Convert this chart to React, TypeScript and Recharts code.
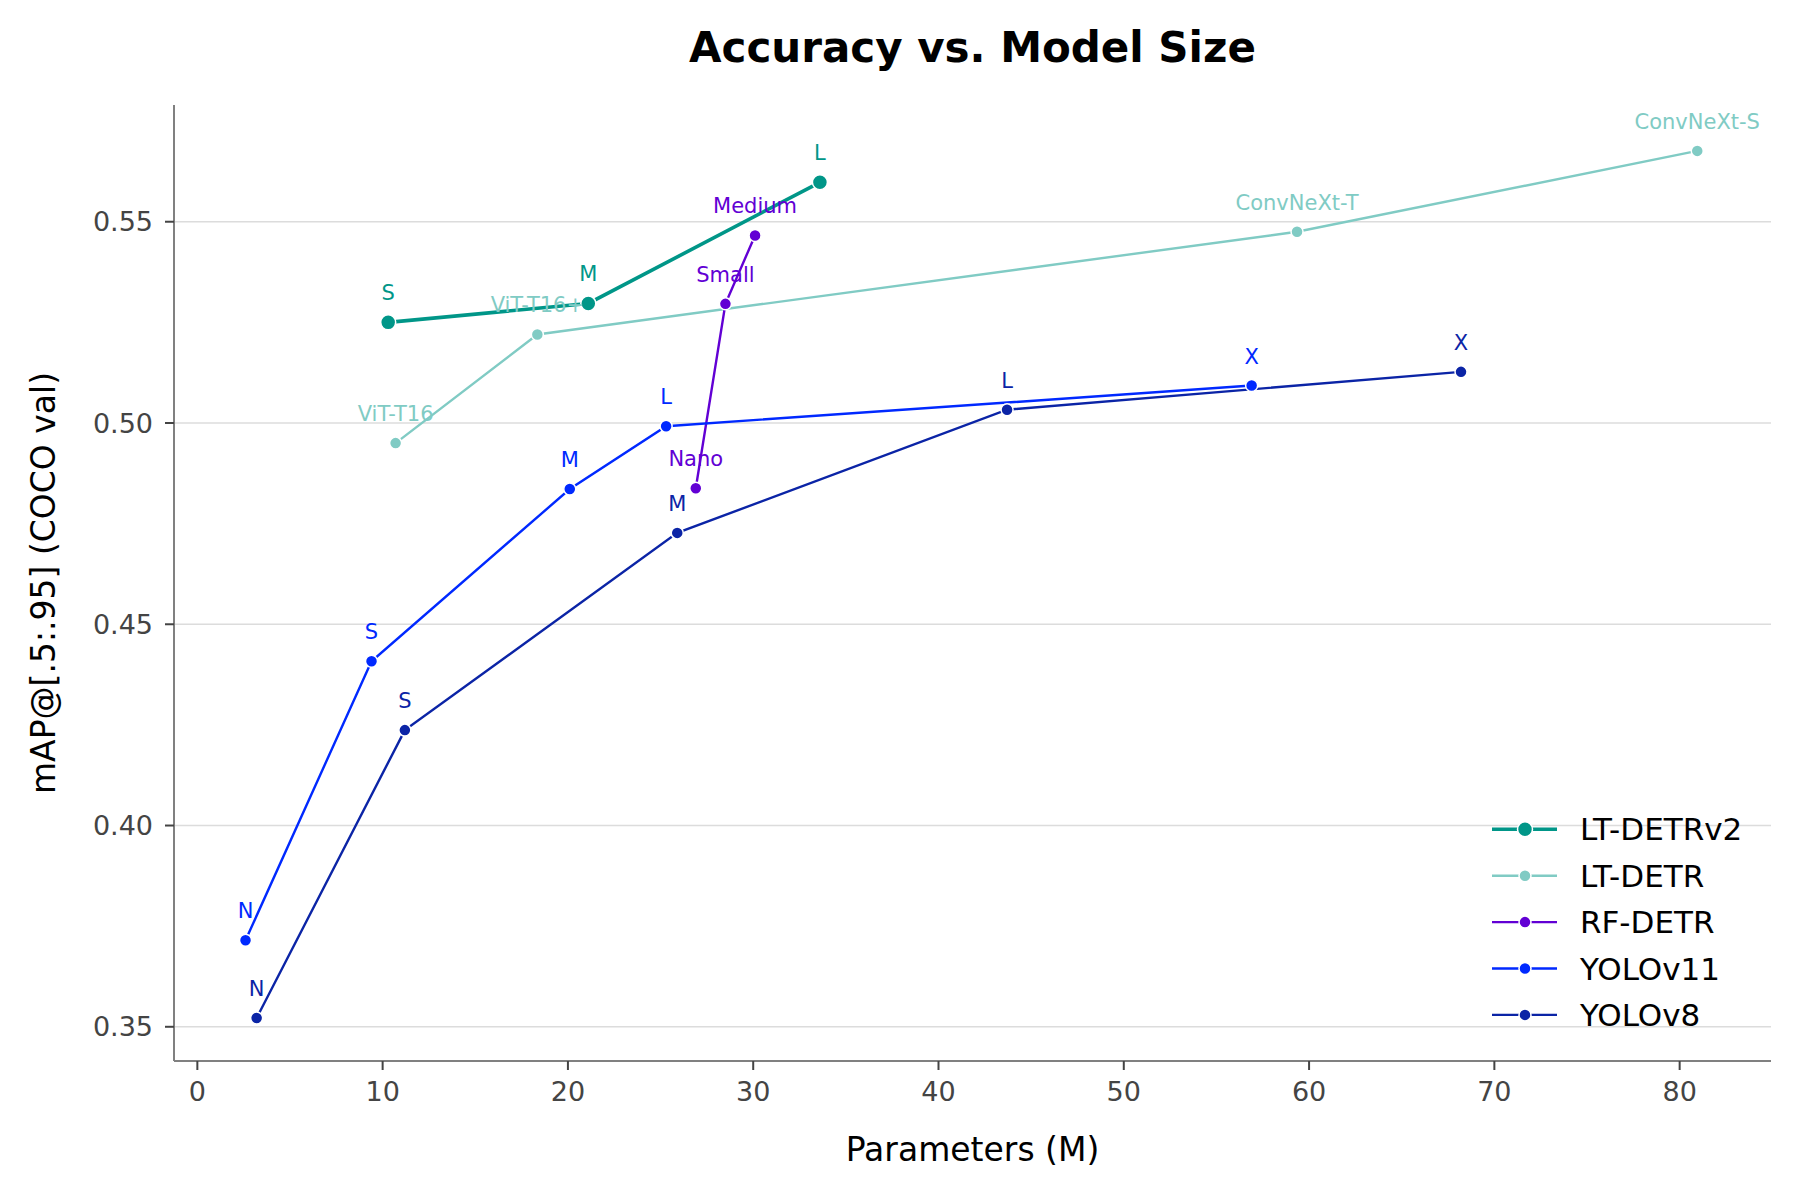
import React from 'react';
import { LineChart, Line, XAxis, YAxis, CartesianGrid, LabelList } from 'recharts';

// ---- Data ----
const ltDetrV2Params = [10.3, 21.1, 33.6];
const ltDetrV2Map = [0.525, 0.5297, 0.5598];
const ltDetrV2Labels = ['S', 'M', 'L'];

const ltDetrParams = [10.7, 18.35, 59.35, 80.95];
const ltDetrMap = [0.495, 0.522, 0.5475, 0.5676];
const ltDetrLabels = ['ViT-T16', 'ViT-T16+', 'ConvNeXt-T', 'ConvNeXt-S'];

const rfDetrParams = [26.9, 28.5, 30.1];
const rfDetrMap = [0.4838, 0.5296, 0.5466];
const rfDetrLabels = ['Nano', 'Small', 'Medium'];

const yolo11Params = [2.6, 9.4, 20.1, 25.3, 56.9];
const yolo11Map = [0.3715, 0.4408, 0.4836, 0.4992, 0.5093];
const yolo11Labels = ['N', 'S', 'M', 'L', 'X'];

const yolo8Params = [3.2, 11.2, 25.9, 43.7, 68.2];
const yolo8Map = [0.3522, 0.4237, 0.4727, 0.5033, 0.5127];
const yolo8Labels = ['N', 'S', 'M', 'L', 'X'];

const xTicks = [0, 10, 20, 30, 40, 50, 60, 70, 80];
const yTicks = [0.35, 0.4, 0.45, 0.5, 0.55];

const build = (xs: number[], ys: number[], labels: string[]) =>
  xs.map((x, i) => ({ x, y: ys[i], label: labels[i] }));

const series = [
  { name: 'LT-DETRv2', color: '#009688', width: 3.6, r: 7.5, data: build(ltDetrV2Params, ltDetrV2Map, ltDetrV2Labels) },
  { name: 'LT-DETR', color: '#80cbc4', width: 2.4, r: 6, data: build(ltDetrParams, ltDetrMap, ltDetrLabels) },
  { name: 'RF-DETR', color: '#6200d4', width: 2.4, r: 6, data: build(rfDetrParams, rfDetrMap, rfDetrLabels) },
  { name: 'YOLOv11', color: '#0029ff', width: 2.4, r: 6, data: build(yolo11Params, yolo11Map, yolo11Labels) },
  { name: 'YOLOv8', color: '#0b24a6', width: 2.4, r: 6, data: build(yolo8Params, yolo8Map, yolo8Labels) },
];

const FONT = 'DejaVu Sans, sans-serif';

const makeLabel = (color: string) => (props: any) => {
  const x = props.x ?? props.viewBox?.x;
  const y = props.y ?? props.viewBox?.y;
  if (x == null || y == null) return null;
  return (
    <text x={x} y={y - 22} textAnchor="middle" fontSize={21} fill={color} fontFamily={FONT}>
      {props.value}
    </text>
  );
};

export default function App() {
  const legendTop = 829.3;
  const legendStep = 46.4;
  return (
    <div style={{ position: 'absolute', left: 0, top: 0, width: 1800, height: 1200, background: '#fff' }}>
      <LineChart
        width={1800}
        height={1200}
        margin={{ top: 105, right: 29, left: 0, bottom: 0 }}
        style={{ fontFamily: FONT }}
      >
        <CartesianGrid vertical={false} horizontalValues={yTicks} stroke="#dcdcdc" strokeWidth={1.5} />
        <XAxis
          type="number"
          dataKey="x"
          domain={[-1.26, 84.93]}
          ticks={xTicks}
          allowDataOverflow
          height={139}
          tickSize={9}
          tickMargin={12}
          axisLine={{ stroke: '#808080', strokeWidth: 2 }}
          tickLine={{ stroke: '#444', strokeWidth: 2 }}
          tick={{ fontSize: 27, fill: '#444', fontFamily: FONT }}
        />
        <YAxis
          type="number"
          dataKey="y"
          domain={[0.3415, 0.579]}
          ticks={yTicks}
          allowDataOverflow
          width={174}
          tickSize={9}
          tickMargin={12}
          tickFormatter={(v: number) => v.toFixed(2)}
          axisLine={{ stroke: '#808080', strokeWidth: 2 }}
          tickLine={{ stroke: '#444', strokeWidth: 2 }}
          tick={{ fontSize: 27, fill: '#444', fontFamily: FONT }}
        />
        {series.map((s) => (
          <Line
            key={s.name}
            data={s.data}
            dataKey="y"
            name={s.name}
            type="linear"
            stroke={s.color}
            strokeWidth={s.width}
            dot={{ r: s.r, fill: s.color, stroke: '#ffffff', strokeWidth: 1.5 }}
            activeDot={false}
            isAnimationActive={false}
          >
            <LabelList dataKey="label" content={makeLabel(s.color)} />
          </Line>
        ))}
      </LineChart>
      <svg
        width={1800}
        height={1200}
        style={{ position: 'absolute', left: 0, top: 0, pointerEvents: 'none' }}
      >
        <text x={972.5} y={62} textAnchor="middle" fontSize={42} fontWeight="bold" fill="#000" fontFamily={FONT}>
          Accuracy vs. Model Size
        </text>
        <text x={972.5} y={1161} textAnchor="middle" fontSize={33} fill="#000" fontFamily={FONT}>
          Parameters (M)
        </text>
        <text
          x={55}
          y={583}
          textAnchor="middle"
          fontSize={33}
          fill="#000"
          fontFamily={FONT}
          transform="rotate(-90, 55, 583)"
        >
          mAP@[.5:.95] (COCO val)
        </text>
        {series.map((s, i) => {
          const cy = legendTop + i * legendStep;
          return (
            <g key={s.name}>
              <line x1={1492} x2={1557} y1={cy} y2={cy} stroke={s.color} strokeWidth={s.width} />
              <circle cx={1525} cy={cy} r={s.r} fill={s.color} stroke="#fff" strokeWidth={1.5} />
              <text x={1580} y={cy + 11} fontSize={31} fill="#000" fontFamily={FONT}>
                {s.name}
              </text>
            </g>
          );
        })}
      </svg>
    </div>
  );
}
